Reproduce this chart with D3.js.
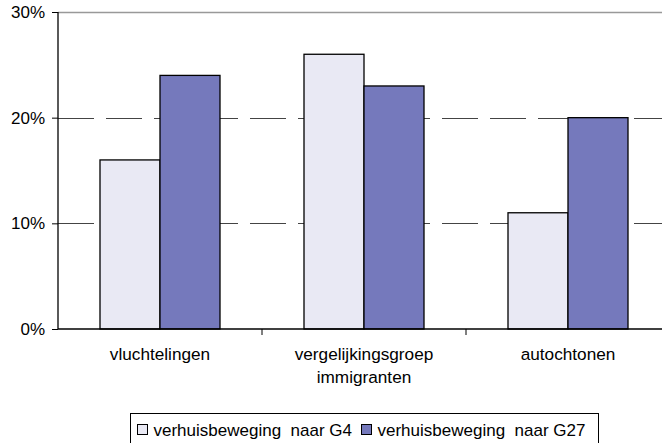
<!DOCTYPE html>
<html>
<head>
<meta charset="utf-8">
<script src="https://cdn.jsdelivr.net/npm/d3@7"></script>
<style>
  body { margin: 0; background: #fff; }
  svg { display: block; font-family: "Liberation Sans", Arial, sans-serif; }
</style>
</head>
<body>
<svg id="chart" width="662" height="443"></svg>
<script>
const categories = [["vluchtelingen"], ["vergelijkingsgroep", "immigranten"], ["autochtonen"]];
const seriesNames = ["verhuisbeweging  naar G4", "verhuisbeweging  naar G27"];
const g4Values = [0.16, 0.26, 0.11];
const g27Values = [0.24, 0.23, 0.20];
const yTicks = [0, 0.1, 0.2, 0.3];

const colors = ["#E9E9F4", "#7579BC"];
const width = 662, height = 443;
const margin = { top: 12, right: -8, bottom: 114, left: 58 };

const svg = d3.select("#chart");
const x = d3.scaleBand().domain(d3.range(categories.length)).range([margin.left, width - margin.right]);
const x1 = d3.scaleBand().domain([0, 1]).range([0, 120]);
const y = d3.scaleLinear().domain([0, 0.3]).range([height - margin.bottom, margin.top]);

// gridlines
svg.append("g").selectAll("line").data(yTicks.filter(d => d > 0)).join("line")
  .attr("x1", margin.left).attr("x2", width)
  .attr("y1", d => Math.round(y(d)) + 0.5).attr("y2", d => Math.round(y(d)) + 0.5)
  .attr("stroke", d => d === 0.3 ? "#999" : "#444")
  .attr("stroke-width", d => d === 0.3 ? 1.5 : 1.2)
  .attr("stroke-dasharray", d => d === 0.3 ? null : "36,12");

// bars
const data = categories.map((c, i) => [g4Values[i], g27Values[i]]);
const groups = svg.append("g").selectAll("g").data(data).join("g")
  .attr("transform", (d, i) => `translate(${x(i) + x.bandwidth() / 2 - 60},0)`);
groups.selectAll("rect").data(d => d.map((v, k) => ({ v, k }))).join("rect")
  .attr("x", d => x1(d.k))
  .attr("y", d => y(d.v))
  .attr("width", x1.bandwidth())
  .attr("height", d => y(0) - y(d.v))
  .attr("fill", d => colors[d.k])
  .attr("stroke", "#000")
  .attr("stroke-width", 1.3);

// y axis
const yAxis = svg.append("g").attr("transform", `translate(${margin.left},0)`)
  .call(d3.axisLeft(y).tickValues(yTicks).tickFormat(d3.format(".0%")).tickSize(6).tickPadding(7));
yAxis.selectAll("text").attr("font-size", 17).attr("fill", "#000");
yAxis.select(".domain").attr("stroke", "#000").attr("stroke-width", 1.3).attr("d", `M0,${y(0)}V${y(0.3)}`);
yAxis.selectAll(".tick line").attr("stroke", "#000");

// x axis
const xAxis = svg.append("g").attr("transform", `translate(0,${y(0)})`);
xAxis.append("line").attr("x1", margin.left).attr("x2", width).attr("stroke", "#000").attr("stroke-width", 1.3);
xAxis.selectAll(".tk").data(d3.range(1, categories.length)).join("line").attr("class", "tk")
  .attr("x1", i => x(i)).attr("x2", i => x(i)).attr("y1", 0).attr("y2", 6).attr("stroke", "#000");
const labels = xAxis.selectAll("text").data(categories).join("text")
  .attr("x", (d, i) => x(i) + x.bandwidth() / 2)
  .attr("y", 31)
  .attr("text-anchor", "middle")
  .attr("font-size", 17.2);
labels.selectAll("tspan").data(d => d).join("tspan")
  .attr("x", function () { return d3.select(this.parentNode).attr("x"); })
  .attr("dy", (d, i) => i === 0 ? 0 : 23)
  .text(d => d);

// legend
const legend = svg.append("g").attr("transform", "translate(130.5,413.5)");
legend.append("rect").attr("width", 468).attr("height", 40).attr("fill", "#fff").attr("stroke", "#000").attr("stroke-width", 1);
const items = legend.selectAll("g").data(seriesNames).join("g")
  .attr("transform", (d, i) => `translate(${i === 0 ? 7 : 231},11)`);
items.append("rect").attr("width", 10).attr("height", 10).attr("fill", (d, i) => colors[i]).attr("stroke", "#000");
items.append("text").attr("x", 16).attr("y", 11).attr("font-size", 17).attr("xml:space", "preserve")
  .style("white-space", "pre").text(d => d);
</script>
</body>
</html>
